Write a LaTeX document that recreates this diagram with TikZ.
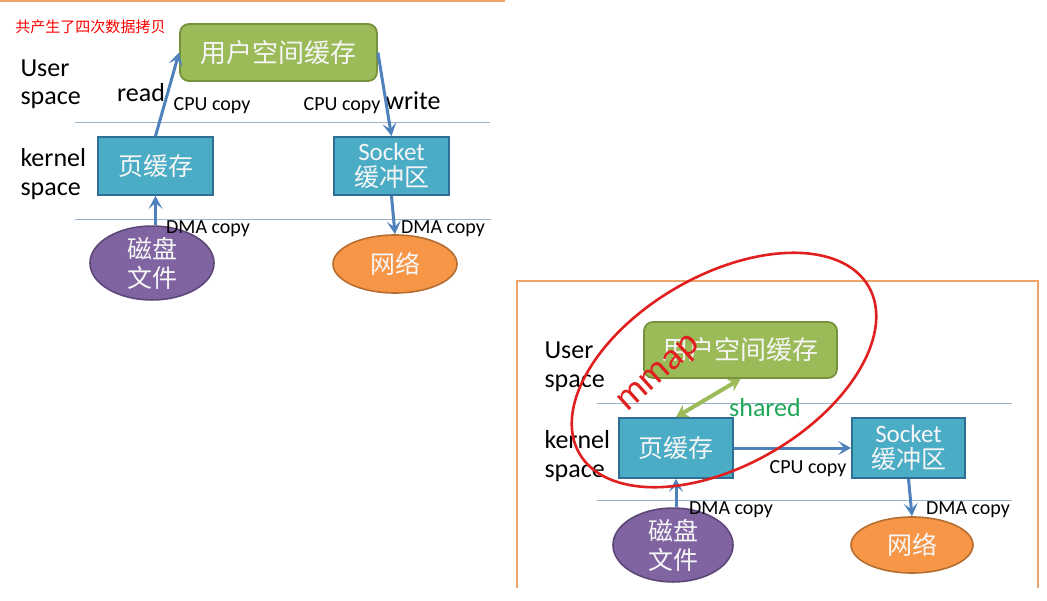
\documentclass[tikz,border=0pt]{standalone}
\usepackage{fontspec}
\setmainfont{Carlito}
\newfontfamily\cjk{Noto Sans CJK SC}
\usetikzlibrary{arrows.meta,shapes.geometric}

\definecolor{ugreen}{HTML}{9BBB59}
\definecolor{ugreenD}{HTML}{76923C}
\definecolor{kblue}{HTML}{4BACC6}
\definecolor{kblueD}{HTML}{2F6F95}
\definecolor{dpurple}{HTML}{8064A2}
\definecolor{dpurpleD}{HTML}{5C4776}
\definecolor{norange}{HTML}{F79646}
\definecolor{norangeD}{HTML}{B66D31}
\definecolor{arr}{HTML}{4F81BD}
\definecolor{sepc}{HTML}{9AB3C8}
\definecolor{frame}{HTML}{EDA46A}
\definecolor{mred}{HTML}{E0201F}
\definecolor{sgreen}{HTML}{1FA85A}

\begin{document}
\begin{tikzpicture}[x=1pt, y=-1pt, font=\fontsize{24}{28}\selectfont, line width=1pt,
  >={Stealth[length=13pt, width=14pt, inset=6pt]},
  ubuf/.style={draw=ugreenD, line width=1.8pt, fill=ugreen, rounded corners=9pt, inner sep=0pt, text=white!93!gray, font=\cjk\fontsize{26}{28}\selectfont},
  kbuf/.style={draw=kblueD, line width=1.8pt, fill=kblue, inner sep=0pt, align=center, text=white!93!gray, font=\fontsize{25}{27}\selectfont},
  dev/.style={ellipse, draw, line width=1.6pt, inner sep=0pt, align=center, text=white!93!gray, font=\cjk\fontsize{25}{29}\selectfont},
  lay/.style={anchor=west, inner sep=0pt, font=\fontsize{26}{30}\selectfont},
  cp/.style={inner sep=0pt, font=\fontsize{20}{22}\selectfont},
  sep/.style={draw=sepc, line width=1pt},
  cpy/.style={->, draw=arr, line width=3pt},
  shr/.style={{Stealth[length=12pt, width=14pt]}-{Stealth[length=12pt, width=14pt]}, draw=ugreen, line width=4pt}]
  \useasboundingbox (0,0) rectangle (1047,600);
  \draw[frame, line width=1.5pt] (0,0.8) -- (505,0.8);

  % four copies
  \node[anchor=west, inner sep=0pt, text=red, font=\cjk\fontsize{15}{17}\selectfont] (note) at (15,27) {共产生了四次数据拷贝};
  \node[lay] (us1) at (20,68) {User};
  \node[lay] (us1b) at (20,100) {space};
  \node[lay] (ks1) at (20,158) {kernel};
  \node[lay] (ks1b) at (20,191) {space};
  \draw[sep] (75,122) -- (490,122);
  \draw[sep] (75,219) -- (491,219);
  \node[ubuf, minimum width=197pt, minimum height=57pt] (ub1) at (278.5,52.5) {用户空间缓存};
  \node[kbuf, minimum width=115pt, minimum height=58pt] (pc1) at (155.5,166) {\cjk 页缓存};
  \node[kbuf, minimum width=115pt, minimum height=58pt] (sk1) at (391.5,166) {Socket\\[-1pt]\cjk 缓冲区};
  \node[dev, draw=dpurpleD, fill=dpurple, minimum width=124pt, minimum height=60pt] (dk1) at (152,263) {磁盘\\文件};
  \node[dev, draw=norangeD, fill=norange, minimum width=124pt, minimum height=58pt] (nt1) at (395,264) {网络};
  \node[inner sep=0pt, font=\fontsize{26}{28}\selectfont] (rd1) at (141,93) {read};
  \node[inner sep=0pt, font=\fontsize{26}{28}\selectfont] (wr1) at (413,101) {write};
  \node[cp] (c1) at (212,106) {CPU copy};
  \node[cp] (c2) at (342,106) {CPU copy};
  \node[cp] (d1) at (208,229) {DMA copy};
  \node[cp] (d2) at (443,229) {DMA copy};
  \draw[cpy] (pc1.north) -- (ub1.west);
  \draw[cpy] (ub1.east) -- (sk1.north);
  \draw[cpy] (pc1.south |- dk1.north) -- (pc1.south);
  \draw[cpy] (sk1.south) -- (nt1.north);

  % mmap
  \draw[frame, line width=2pt] (517,588) -- (517,281) -- (1038,281) -- (1038,588);
  \node[lay] (us2) at (544,350) {User};
  \node[lay] (us2b) at (544,383) {space};
  \node[lay] (ks2) at (544,440) {kernel};
  \node[lay] (ks2b) at (544,473) {space};
  \draw[sep] (597,403) -- (1012,403);
  \draw[sep] (597,500) -- (1012,500);
  \node[ubuf, minimum width=193pt, minimum height=56pt] (ub2) at (740.5,350) {用户空间缓存};
  \node[kbuf, minimum width=114pt, minimum height=60pt] (pc2) at (676,448) {\cjk 页缓存};
  \node[kbuf, minimum width=113pt, minimum height=60pt] (sk2) at (908.5,448) {Socket\\[-1pt]\cjk 缓冲区};
  \node[dev, draw=dpurpleD, fill=dpurple, minimum width=120pt, minimum height=60pt] (dk2) at (673,545) {磁盘\\文件};
  \node[dev, draw=norangeD, fill=norange, minimum width=122pt, minimum height=56pt] (nt2) at (912,545) {网络};
  \node[cp] (c3) at (808,469) {CPU copy};
  \node[cp] (d3) at (731,510) {DMA copy};
  \node[cp] (d4) at (968,510) {DMA copy};
  \node[inner sep=0pt, text=sgreen, font=\fontsize{26}{28}\selectfont] (sh) at (765,408) {shared};
  \draw[cpy] (pc2.east) -- (sk2.west);
  \draw[cpy] (pc2.south |- dk2.north) -- (pc2.south);
  \draw[cpy] (sk2.south) -- (nt2.north);
  \draw[shr] (pc2.north) -- (ub2.south);
  \node[ellipse, draw=mred, line width=2.6pt, minimum width=334pt, minimum height=190pt, rotate=30] (ring) at (724,370) {};
  \node[inner sep=0pt, text=mred, rotate=42, font=\fontsize{38}{40}\selectfont] (mm) at (660,375) {mmap};
\end{tikzpicture}
\end{document}
